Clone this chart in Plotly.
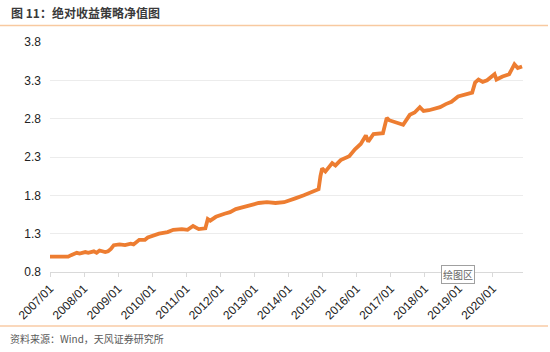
import plotly.graph_objects as go

dates = ["2007-01-01","2007-04-01","2007-07-15","2007-08-15","2007-10-15","2007-11-15",
         "2008-01-15","2008-02-15","2008-04-15","2008-05-15","2008-06-15","2008-08-15",
         "2008-09-15","2008-10-15","2008-11-15","2009-01-15","2009-03-15","2009-05-15",
         "2009-06-15","2009-08-15","2009-10-15","2009-11-15","2010-01-15","2010-03-15",
         "2010-06-15","2010-08-15","2010-11-15","2011-01-15","2011-03-15","2011-05-15",
         "2011-07-25","2011-08-20","2011-09-15","2011-11-15","2012-02-15","2012-04-15",
         "2012-06-15","2012-09-15","2012-12-15","2013-02-15","2013-05-15","2013-08-15",
         "2013-11-15","2014-01-15","2014-03-15","2014-06-15","2014-09-15","2014-11-20",
         "2014-12-10","2014-12-28","2015-02-01","2015-04-15","2015-05-20","2015-07-15",
         "2015-10-15","2015-12-15","2016-02-15","2016-04-10","2016-05-05","2016-07-01",
         "2016-10-10","2016-11-20","2016-12-15","2017-02-15","2017-04-15","2017-05-15",
         "2017-07-25","2017-09-15","2017-11-10","2017-12-20","2018-02-15","2018-06-15",
         "2018-08-15","2018-10-15","2018-12-25","2019-03-15","2019-05-25","2019-06-25",
         "2019-08-01","2019-09-15","2019-11-01","2020-01-20","2020-02-10","2020-04-15",
         "2020-06-25","2020-08-20","2020-09-25","2020-11-10"]
values = [1.00,1.00,1.00,1.02,1.05,1.04,
          1.06,1.05,1.07,1.05,1.08,1.06,
          1.07,1.10,1.15,1.16,1.15,1.17,
          1.16,1.22,1.22,1.25,1.28,1.30,
          1.32,1.35,1.36,1.35,1.40,1.36,
          1.37,1.49,1.47,1.52,1.56,1.58,
          1.62,1.65,1.68,1.70,1.71,1.70,
          1.71,1.74,1.76,1.80,1.85,1.88,
          2.05,2.15,2.11,2.22,2.19,2.26,
          2.31,2.40,2.47,2.58,2.50,2.60,
          2.61,2.81,2.78,2.75,2.73,2.72,
          2.85,2.88,2.95,2.90,2.91,2.95,
          2.99,3.02,3.09,3.12,3.14,3.27,
          3.31,3.28,3.30,3.38,3.31,3.35,
          3.38,3.51,3.46,3.48]

y_ticks = [0.8, 1.3, 1.8, 2.3, 2.8, 3.3, 3.8]

W, H = 550, 352
ML, MR, MT, MB = 50, 27, 42, 80
PW, PH = W - ML - MR, H - MT - MB

def px(x):
    return (x - ML) / PW

def py(y):
    return (H - MB - y) / PH

fig = go.Figure()
fig.add_trace(go.Scatter(x=dates, y=values, mode="lines",
                         line=dict(color="#ED7D31", width=3.8), hoverinfo="skip"))

fig.update_layout(
    width=W, height=H,
    margin=dict(l=ML, r=MR, t=MT, b=MB),
    paper_bgcolor="white", plot_bgcolor="white",
    showlegend=False,
    font=dict(family="Liberation Sans, Arial, sans-serif", size=12, color="#333333"),
)
fig.update_xaxes(
    type="date", range=["2007-01-01", "2020-11-20"],
    tick0="2007-01-01", dtick="M12", tickformat="%Y/%m",
    tickangle=-45, ticks="outside", ticklen=4, tickcolor="#D9D9D9",
    showline=True, linecolor="#D9D9D9", linewidth=1,
    showgrid=False, zeroline=False,
    tickfont=dict(size=12, color="#222222"),
)
fig.update_yaxes(
    range=[0.8, 3.8], tickvals=y_ticks, ticktext=[f"{v:.1f}" for v in y_ticks],
    showgrid=True, gridcolor="#ECECEC", gridwidth=1,
    zeroline=False, showline=False, ticks="", ticklabelstandoff=8,
    tickfont=dict(size=12, color="#222222"),
)

# Header / footer separator lines
fig.add_shape(type="line", xref="paper", yref="paper",
              x0=px(0), x1=px(548), y0=py(25.5), y1=py(25.5),
              line=dict(color="#F8C9A0", width=1.5))
fig.add_shape(type="line", xref="paper", yref="paper",
              x0=px(0), x1=px(548), y0=py(326), y1=py(326),
              line=dict(color="#F6B27A", width=1.2))

fig.add_annotation(text="<b>图 11：绝对收益策略净值图</b>", xref="paper", yref="paper",
                   x=px(9), y=py(12), xanchor="left", yanchor="middle", showarrow=False,
                   font=dict(family="Noto Sans CJK SC", size=12, color="#3A3A3A"))
fig.add_annotation(text="资料来源：Wind，天风证券研究所", xref="paper", yref="paper",
                   x=px(8), y=py(338.5), xanchor="left", yanchor="middle", showarrow=False,
                   font=dict(family="Noto Sans CJK SC", size=10, color="#595959"))
fig.add_annotation(text="绘图区", xref="paper", yref="paper",
                   x=px(458), y=py(274.5), xanchor="center", yanchor="middle", showarrow=False,
                   font=dict(family="Noto Sans CJK SC", size=10, color="#666666"),
                   bgcolor="white", bordercolor="#A0A0A0", borderwidth=1, borderpad=1)

fig.write_html("out.html")
